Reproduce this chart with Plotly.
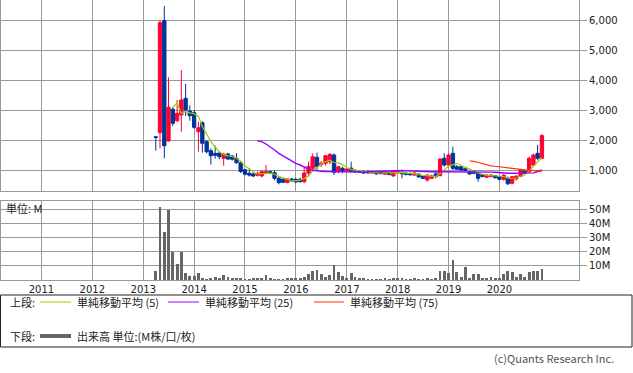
import pandas as pd
import plotly.graph_objects as go

# ---------------- data (monthly, Apr 2013 - Nov 2020) ----------------
months = pd.date_range("2013-04-01", periods=92, freq="MS")

opens = [2110, 2246, 5987, 1969, 3027, 2647, 2837, 3395, 2971,
         2914, 2279, 2580, 1945, 1645, 1557, 1568, 1391, 1534, 1468, 1391, 1244,
         1010, 890, 870, 823, 800, 890, 944, 910, 722, 690, 580, 700,
         690, 690, 610, 900, 1056, 1423, 1180, 1223, 1277, 1501, 944, 1056,
         980, 1060, 990, 960, 944, 950, 900, 930, 930, 860, 920, 800,
         900, 920, 890, 880, 830, 860, 790, 666, 720, 870, 810, 1391,
         1167, 1557, 1111, 1111, 1040, 944, 960, 889, 850, 760, 780, 810,
         777, 690, 722, 556, 700, 790, 960, 944, 1167, 1557, 1391]
highs = [2120, 6010, 6478, 4096, 3094, 3338, 4340, 3872, 3161,
         3004, 2613, 2625, 2002, 1725, 1812, 1611, 1578, 1578, 1501, 1557, 1290,
         1040, 1050, 920, 950, 980, 1167, 980, 1000, 780, 720, 720, 730,
         720, 750, 1111, 1278, 1557, 1580, 1290, 1500, 1557, 1557, 1140, 1111,
         1060, 1277, 1030, 1000, 980, 980, 980, 960, 960, 960, 950, 1000,
         980, 960, 940, 920, 930, 900, 820, 860, 850, 967, 1390, 1557,
         1557, 1778, 1167, 1133, 1060, 960, 1000, 900, 870, 850, 860, 830,
         800, 880, 780, 800, 830, 1030, 1000, 1450, 1550, 1835, 2202]
lows = [1650, 1725, 1391, 1945, 2470, 2603, 2279, 2804, 2647,
        2379, 1611, 1578, 1557, 1177, 1378, 1357, 1144, 1334, 1311, 1211, 900,
        820, 780, 760, 780, 760, 870, 860, 650, 520, 560, 560, 600,
        560, 580, 556, 780, 1000, 1000, 1100, 1150, 1200, 833, 890, 889,
        940, 920, 900, 900, 870, 880, 880, 840, 850, 840, 820, 780,
        870, 720, 820, 820, 810, 740, 700, 610, 700, 722, 790, 1111,
        1111, 1000, 1000, 944, 930, 850, 860, 610, 760, 740, 760, 720,
        650, 640, 500, 520, 650, 760, 870, 900, 1100, 1334, 1357]
closes = [2090, 5920, 1812, 3094, 2560, 2894, 3338, 3004, 2814,
          2426, 2413, 1892, 1611, 1478, 1491, 1444, 1534, 1367, 1357, 1244, 950,
          860, 830, 800, 890, 944, 944, 890, 722, 577, 590, 700, 640,
          600, 610, 900, 1120, 1444, 1111, 1230, 1478, 1523, 923, 1111, 980,
          1030, 944, 950, 930, 900, 900, 950, 870, 880, 920, 850, 970,
          944, 870, 850, 840, 900, 770, 720, 833, 800, 780, 1367, 1167,
          1501, 1056, 1023, 1000, 980, 866, 890, 722, 780, 833, 833, 740,
          690, 820, 540, 777, 790, 1000, 890, 1391, 1501, 1391, 2146]

volume_m = [6.4, 52.4, 34.5, 50.2, 20.2, 11.7, 20.2, 5.2, 3.1,
            3.1, 4.8, 1.4, 0.7, 1.4, 2.1, 1.7, 3.6, 2.1, 1.0, 1.0, 1.2,
            0.6, 0.7, 1.0, 0.8, 1.2, 3.6, 1.0, 0.5, 0.4, 0.6, 1.0, 0.8,
            1.0, 1.7, 2.4, 4.0, 6.4, 7.1, 4.0, 2.4, 3.6, 10.7, 6.0, 3.1,
            1.5, 4.8, 2.4, 1.0, 0.8, 0.7, 0.7, 0.5, 0.7, 0.8, 0.7, 0.8,
            0.8, 1.0, 0.6, 0.5, 0.8, 0.5, 0.4, 0.8, 0.6, 1.5, 6.4, 6.4,
            5.0, 14.5, 6.0, 2.5, 9.5, 1.5, 4.0, 4.0, 1.2, 1.2, 2.0, 1.2,
            1.5, 4.5, 6.5, 6.0, 2.0, 4.0, 2.5, 6.0, 6.5, 6.5, 7.5]

# moving averages (start at 5th / 25th / 75th month)
ma5 = [3095, 3240, 2890, 2960, 2910,
       2880, 2790, 2450, 2200, 1950, 1778, 1600, 1520, 1470, 1450, 1390, 1290,
       1130, 1040, 930, 866, 870, 880, 895, 860, 780, 735, 690, 645,
       635, 660, 720, 800, 965, 1075, 1200, 1277, 1330, 1250, 1235, 1180,
       1080, 1015, 1000, 967, 951, 925, 926, 910, 900, 904, 894, 898,
       913, 911, 897, 895, 881, 846, 816, 813, 805, 781, 880, 990,
       1130, 1180, 1223, 1150, 1100, 1030, 960, 900, 850, 825, 815, 785,
       775, 783, 725, 715, 725, 790, 830, 975, 1125, 1245, 1420]
ma25 = [1979, 1950, 1868, 1779, 1668, 1557, 1468, 1391, 1311,
        1223, 1167, 1090, 1033, 990, 967, 956, 950, 946, 944, 944, 944,
        944, 944, 940, 935, 930, 930, 940, 950, 960, 970, 980, 990,
        990, 985, 975, 965, 955, 950, 945, 940, 940, 940, 940, 940,
        945, 950, 950, 950, 950, 948, 945, 940, 935, 930, 928, 923,
        905, 895, 890, 889, 889, 889, 889, 892, 905, 950, 1000]
ma75 = [1300, 1290, 1250, 1210, 1170, 1140, 1125,
        1111, 1100, 1085, 1065, 1040, 1020, 1003, 990, 980, 970, 965]

year_ticks = [f"{y}-01-01" for y in range(2011, 2021)]
price_ticks = [1000, 2000, 3000, 4000, 5000, 6000]
vol_tick_vals = [10e6, 20e6, 30e6, 40e6, 50e6]
vol_tick_text = ["10M", "20M", "30M", "40M", "50M"]

# ---------------- styles ----------------
RED = "#ff0033"
BLUE = "#003399"
C_MA5 = "#99cc00"
C_MA25 = "#9900ff"
C_MA75 = "#ff3300"
C_VOL = "#666666"
GRID = "#999999"
TXT = "#222222"
JP = "Noto Sans CJK JP"

W, H = 633, 373
ML, MR, MT, MB = 1, 54, 0, 93
PW, PH = W - ML - MR, H - MT - MB


def px_x(px):
    return (px - ML) / PW


def px_y(py):
    return (H - MB - py) / PH


fig = go.Figure()
fig.add_trace(go.Candlestick(
    x=months, open=opens, high=highs, low=lows, close=closes,
    xaxis="x", yaxis="y",
    increasing=dict(line=dict(color=RED, width=1), fillcolor=RED),
    decreasing=dict(line=dict(color=BLUE, width=1), fillcolor=BLUE),
    whiskerwidth=0, hoverinfo="skip", showlegend=False))
fig.add_trace(go.Scatter(x=months[4:], y=ma5, mode="lines", xaxis="x", yaxis="y",
                         line=dict(color=C_MA5, width=1.2), hoverinfo="skip"))
fig.add_trace(go.Scatter(x=months[24:], y=ma25, mode="lines", xaxis="x", yaxis="y",
                         line=dict(color=C_MA25, width=1.4), hoverinfo="skip"))
fig.add_trace(go.Scatter(x=months[74:], y=ma75, mode="lines", xaxis="x", yaxis="y",
                         line=dict(color=C_MA75, width=1.2), hoverinfo="skip"))
fig.add_trace(go.Bar(x=months, y=[v * 1e6 for v in volume_m], xaxis="x2", yaxis="y2",
                     marker=dict(color=C_VOL, line=dict(width=0)),
                     width=20 * 86400000, hoverinfo="skip"))

x_range = ["2010-03-17", "2021-07-25"]
main_dom = [px_y(191), 1]
vol_dom = [0, px_y(201)]

axis_common = dict(showline=True, linecolor=GRID, linewidth=1, mirror=True,
                   showgrid=True, gridcolor=GRID, gridwidth=1, zeroline=False)

fig.update_layout(
    width=W, height=H,
    margin=dict(l=ML, r=MR, t=MT, b=MB),
    paper_bgcolor="white", plot_bgcolor="white",
    showlegend=False, boxgap=0.15, boxgroupgap=0, bargap=0,
    font=dict(family="DejaVu Sans", size=10, color=TXT),
    xaxis=dict(domain=[0, 1], anchor="y", type="date", range=x_range,
               tickvals=year_ticks, showticklabels=False, ticks="",
               rangeslider=dict(visible=False), **axis_common),
    xaxis2=dict(domain=[0, 1], anchor="y2", type="date", range=x_range, matches="x",
                tickvals=year_ticks, tickformat="%Y", ticks="",
                tickfont=dict(family="DejaVu Sans", size=10, color=TXT), **axis_common),
    yaxis=dict(domain=main_dom, anchor="x", side="right", range=[298.6, 6678],
               tickvals=price_ticks, tickformat=",d", ticks="outside", ticklen=7,
               tickcolor=GRID, tickfont=dict(family="DejaVu Sans", size=10, color=TXT),
               **axis_common),
    yaxis2=dict(domain=vol_dom, anchor="x2", side="right", range=[0, 56.4e6],
                tickvals=vol_tick_vals, ticktext=vol_tick_text, ticks="outside", ticklen=7,
                tickcolor=GRID, tickfont=dict(family="DejaVu Sans", size=10, color=TXT),
                **axis_common),
)

shapes = []
annotations = []

# legend box
shapes.append(dict(type="rect", xref="paper", yref="paper",
                   x0=px_x(0.5), x1=px_x(632), y0=px_y(347), y1=px_y(295),
                   line=dict(color=TXT, width=1), fillcolor="rgba(0,0,0,0)"))

row1, row2 = 302, 336
for x0, x1, col, w, yy in [(40, 71, C_MA5, 1, row1), (168, 199, C_MA25, 1, row1),
                           (314, 344, C_MA75, 1, row1), (40, 71, C_VOL, 4, row2)]:
    shapes.append(dict(type="line", xref="paper", yref="paper",
                       x0=px_x(x0), x1=px_x(x1), y0=px_y(yy), y1=px_y(yy),
                       line=dict(color=col, width=w)))


def add_text(txt, px, py, anchor="left", size=11, color=TXT, family=JP):
    annotations.append(dict(text=txt, xref="paper", yref="paper",
                            x=px_x(px), y=px_y(py), xanchor=anchor, yanchor="middle",
                            showarrow=False, font=dict(family=family, size=size, color=color)))


add_text("上段:", 8, row1)
add_text("単純移動平均 (5)", 75, row1)
add_text("単純移動平均 (25)", 203, row1)
add_text("単純移動平均 (75)", 348, row1)
add_text("下段:", 8, row2)
add_text("出来高 単位:(M株/口/枚)", 75, row2)
add_text("単位: M", 4, 208)
add_text("(c)Quants Research Inc.", 616, 358, anchor="right", size=11, color="#555555")

fig.update_layout(shapes=shapes, annotations=annotations)

fig.write_html("out.html")
